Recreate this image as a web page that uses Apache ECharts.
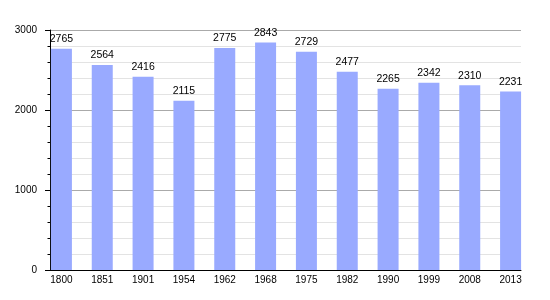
<!DOCTYPE html>
<html><head><meta charset="utf-8">
<script src="https://cdn.jsdelivr.net/npm/echarts@6/dist/echarts.min.js"></script>
<style>html,body{margin:0;padding:0;background:#fff}#c{width:550px;height:300px}</style>
</head><body><div id="c"></div>
<script>
const years = ['1800','1851','1901','1954','1962','1968','1975','1982','1990','1999','2008','2013'];
const population = [2765, 2564, 2416, 2115, 2775, 2843, 2729, 2477, 2265, 2342, 2310, 2231];
const yMin = 0, yMax = 3000, yStep = 1000;

const chart = echarts.init(document.getElementById('c'), null, {renderer:'canvas'});
const font = 'Liberation Sans, Arial, sans-serif';
chart.setOption({
  animation: false,
  backgroundColor: '#fff',
  grid: [
    {left: 41, right: 19, top: 30, bottom: 30},
    {left: 50, right: 29, top: 30, bottom: 30}
  ],
  xAxis: [
    {type: 'category', gridIndex: 0, data: years,
     axisLine: {show: false}, axisTick: {show: false},
     axisLabel: {color: '#000', fontFamily: font, fontSize: 10, margin: 5}},
    {type: 'value', gridIndex: 1, min: 0, max: 1,
     axisLine: {show: true, lineStyle: {color: '#000', width: 1}},
     axisTick: {show: false}, axisLabel: {show: false}, splitLine: {show: false}}
  ],
  yAxis: [
    {type: 'value', gridIndex: 0, min: yMin, max: yMax, interval: yStep, show: false,
     splitLine: {show: false}},
    {type: 'value', gridIndex: 1, min: yMin, max: yMax, interval: yStep,
     axisLine: {show: true, lineStyle: {color: '#000', width: 1}},
     axisTick: {show: true, length: 5, lineStyle: {color: '#000'}},
     minorTick: {show: true, splitNumber: 5, length: 2.5, lineStyle: {color: '#000'}},
     axisLabel: {color: '#000', fontFamily: font, fontSize: 10, margin: 13,
                 formatter: v => String(v)},
     splitLine: {show: true, lineStyle: {color: '#aaaaaa', width: 1}},
     minorSplitLine: {show: true, lineStyle: {color: '#e3e3e3', width: 1}}}
  ],
  series: [{
    type: 'bar', xAxisIndex: 0, yAxisIndex: 0, data: population,
    barWidth: 21,
    itemStyle: {color: '#99aaff'},
    label: {show: true, position: 'top', distance: 4, color: '#000',
            fontFamily: font, fontSize: 10.5}
  }]
});
</script></body></html>
